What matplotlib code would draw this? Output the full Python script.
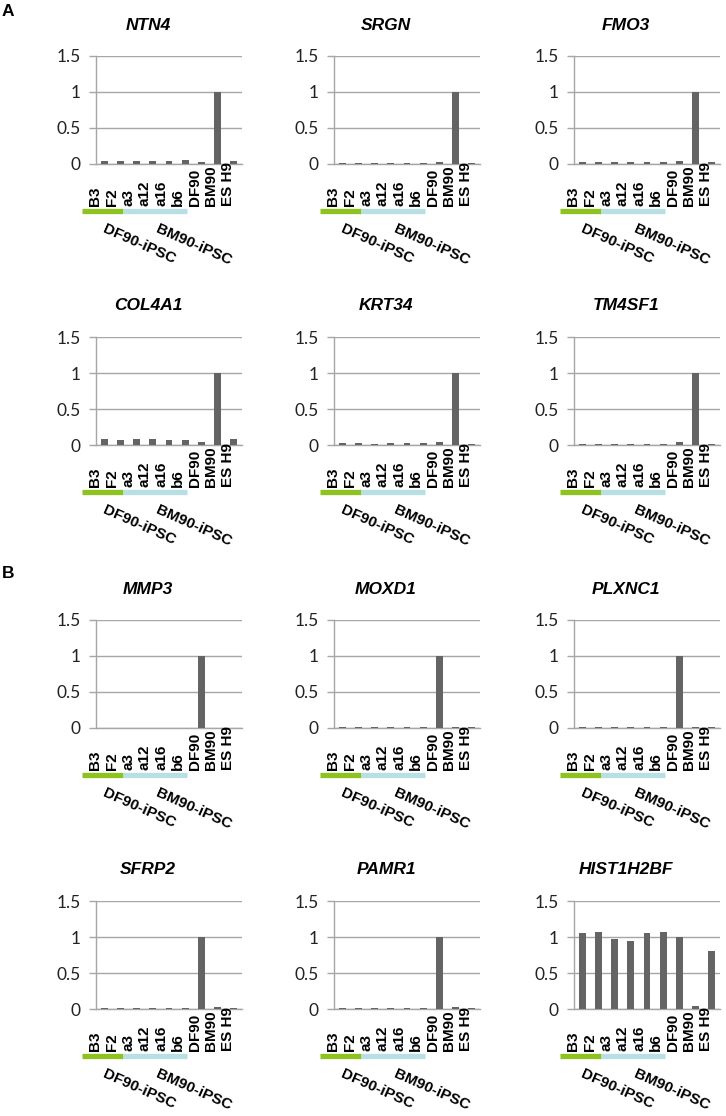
import matplotlib
matplotlib.use("Agg")
import matplotlib.pyplot as plt
import numpy as np

categories = ["B3", "F2", "a3", "a12", "a16", "b6", "DF90", "BM90", "ES H9"]
group_labels = ["DF90-iPSC", "BM90-iPSC"]
yticks = [0, 0.5, 1, 1.5]
ytick_labels = ["0", "0.5", "1", "1.5"]

genes = ["NTN4", "SRGN", "FMO3", "COL4A1", "KRT34", "TM4SF1",
         "MMP3", "MOXD1", "PLXNC1", "SFRP2", "PAMR1", "HIST1H2BF"]

ntn4 = [0.04, 0.04, 0.045, 0.04, 0.045, 0.05, 0.03, 1.0, 0.04]
srgn = [0.01, 0.01, 0.01, 0.01, 0.01, 0.01, 0.03, 1.0, 0.01]
fmo3 = [0.025, 0.03, 0.025, 0.03, 0.025, 0.03, 0.04, 1.0, 0.025]
col4a1 = [0.08, 0.07, 0.08, 0.08, 0.075, 0.075, 0.04, 1.0, 0.08]
krt34 = [0.025, 0.025, 0.02, 0.025, 0.025, 0.025, 0.04, 1.0, 0.02]
tm4sf1 = [0.02, 0.02, 0.015, 0.02, 0.02, 0.02, 0.045, 1.0, 0.02]
mmp3 = [0.005, 0.005, 0.004, 0.004, 0.004, 0.004, 1.0, 0.004, 0.002]
moxd1 = [0.01, 0.01, 0.01, 0.01, 0.01, 0.01, 1.0, 0.01, 0.01]
plxnc1 = [0.015, 0.02, 0.01, 0.01, 0.01, 0.01, 1.0, 0.01, 0.01]
sfrp2 = [0.02, 0.02, 0.02, 0.02, 0.02, 0.02, 1.0, 0.025, 0.02]
pamr1 = [0.02, 0.02, 0.02, 0.02, 0.02, 0.02, 1.0, 0.03, 0.02]
hist1h2bf = [1.05, 1.07, 0.97, 0.95, 1.05, 1.07, 1.0, 0.04, 0.81]

values = [ntn4, srgn, fmo3, col4a1, krt34, tm4sf1,
          mmp3, moxd1, plxnc1, sfrp2, pamr1, hist1h2bf]

W, H = 726, 1116
fig = plt.figure(figsize=(W / 100, H / 100), dpi=100)

def fx(x):
    return x / W

def fy(y):
    return 1 - y / H

col_left = [96, 334, 574]
ax_w = 146
row_top = [56, 337, 620, 901]
ax_h = 108

bar_color = "#646464"
grid_color = "#a6a6a6"
green = "#8dc21f"
blue = "#b8dfe3"

for i, (gene, vals) in enumerate(zip(genes, values)):
    r, c = divmod(i, 3)
    L = col_left[c]
    T = row_top[r]
    B = T + ax_h
    ax = fig.add_axes([fx(L), fy(B), ax_w / W, ax_h / H])
    x = np.arange(len(categories))
    ax.bar(x, vals, width=0.42, color=bar_color, zorder=3)
    ax.set_xlim(-0.5, len(categories) - 0.5)
    ax.set_ylim(0, 1.5)
    ax.set_yticks(yticks)
    ax.set_yticklabels(ytick_labels, family="Lato", fontsize=12.5, color="#222222")
    ax.tick_params(axis="y", length=5, width=1.0, color=grid_color, pad=6)
    ax.set_xticks([])
    ax.grid(axis="y", color=grid_color, linewidth=1.0, zorder=0)
    for s in ["top", "right"]:
        ax.spines[s].set_visible(False)
    ax.spines["left"].set_color(grid_color)
    ax.spines["bottom"].set_color(grid_color)
    ax.spines["left"].set_linewidth(1.0)
    ax.spines["bottom"].set_linewidth(1.0)
    ax.set_facecolor("none")

    # title
    fig.text(fx(L + 52), fy(T - 31), gene, ha="center", va="center",
             fontsize=12.5, fontweight="bold", fontstyle="italic",
             family="Liberation Sans")

    # category labels (rotated)
    for k, cat in enumerate(categories):
        fig.text(fx(L - 1 + 16.6 * k), fy(B + 42), cat, rotation=90,
                 ha="center", va="bottom", fontsize=11, fontweight="bold",
                 family="Liberation Sans")

    # group color bars
    fig.add_artist(plt.Line2D([fx(L - 14), fx(L + 27)], [fy(B + 47), fy(B + 47)],
                              color=green, linewidth=3.8, solid_capstyle="butt"))
    fig.add_artist(plt.Line2D([fx(L + 27), fx(L + 91)], [fy(B + 47), fy(B + 47)],
                              color=blue, linewidth=3.8, solid_capstyle="butt"))

    # group labels
    fig.text(fx(L + 43), fy(B + 80), group_labels[0], rotation=-24,
             ha="center", va="center", fontsize=11, fontweight="bold",
             family="Liberation Sans", rotation_mode="anchor")
    fig.text(fx(L + 98), fy(B + 81), group_labels[1], rotation=-24,
             ha="center", va="center", fontsize=11, fontweight="bold",
             family="Liberation Sans", rotation_mode="anchor")

fig.text(fx(8), fy(12), "A", ha="center", va="center", fontsize=12.5,
         fontweight="bold", family="Liberation Sans")
fig.text(fx(8), fy(573), "B", ha="center", va="center", fontsize=12.5,
         fontweight="bold", family="Liberation Sans")

fig.savefig("out.png", dpi=100, facecolor="white")
